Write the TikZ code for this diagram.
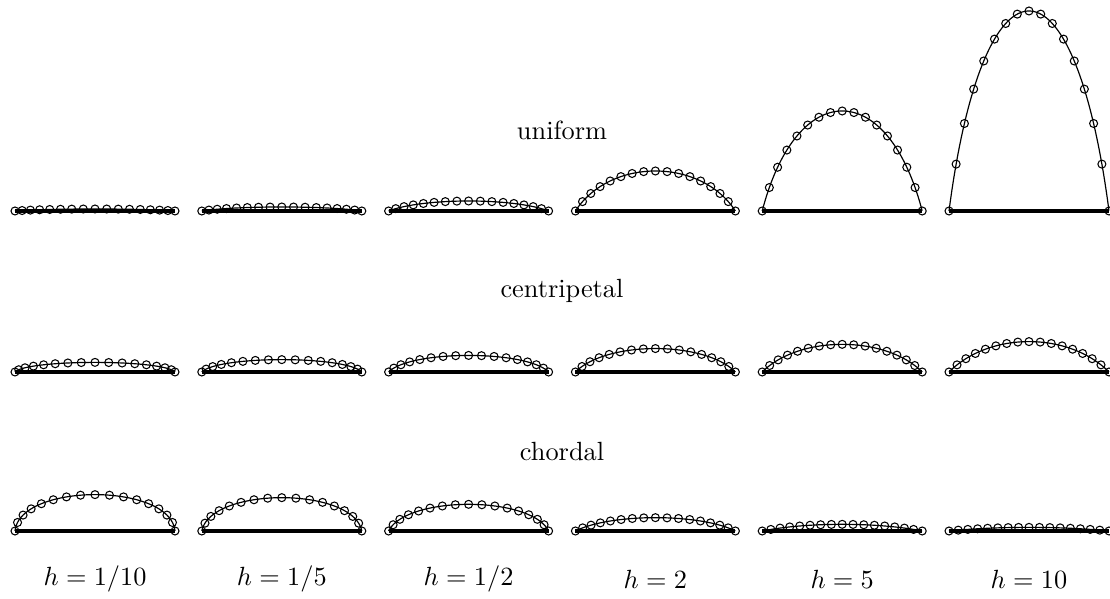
\documentclass[tikz,border=0pt]{standalone}
\usetikzlibrary{positioning}

\begin{document}
\begin{tikzpicture}[
    x=0.38pt, y=0.38pt,
    chord/.style={line width=1.3pt, line cap=butt},
    curve/.style={line width=0.45pt},
    sample/.style={line width=0.4pt},
    title/.style={font=\normalsize, inner sep=1pt},
    hlabel/.style={font=\normalsize, inner sep=1pt}
]

% Picture frame (keeps the margins)
\useasboundingbox (0,0) rectangle (1110,599);

% Row titles
\node[title] (uniform)     at (562,469) {uniform};
\node[title] (centripetal) at (562,308) {centripetal};
\node[title] (chordal)     at (562,147) {chordal};

% Column labels
\foreach \hname [count=\i from 0] in {1/10,1/5,1/2,2,5,10}
    \node[hlabel] (h\i) at (95+186.8*\i,20) {$h=\hname$};

% Panels: mode 0 = uniform, 1 = centripetal, 2 = chordal
\foreach \yb/\mode in {388/0, 227/1, 68/2} {
  \foreach \hv [count=\i from 0] in {0.1,0.2,0.5,2,5,10} {
    \pgfmathsetmacro{\sq}{sqrt(\hv)}
    \pgfmathsetmacro{\ta}{\mode==0 ? 0.65 : (\mode==1 ? \sq/(1+\sq) : \hv/(1+\hv))}
    \pgfmathsetmacro{\tb}{\mode==0 ? \hv/2 : (\mode==1 ? \sq/(1+\sq) : 1/(1+\hv))}
    \pgfmathsetmacro{\xs}{15+186.8*\i}
    % chord between the two end points
    \coordinate (p\mode\i a) at (\xs,\yb);
    \coordinate (p\mode\i b) at (\xs+160,\yb);
    \draw[chord] (p\mode\i a) -- (p\mode\i b);
    % the curve
    \draw[curve] plot[domain=0:1, samples=80, variable=\tp]
        ({\xs+160*(3*\tp^2-2*\tp^3+\ta*(2*\tp^3-3*\tp^2+\tp))},
         {\yb+160*\tb*(\tp-\tp^2)});
    % sample points
    \foreach \k in {0,...,16} {
      \pgfmathsetmacro{\tk}{\k/16}
      \pgfmathsetmacro{\px}{\xs+160*(3*\tk^2-2*\tk^3+\ta*(2*\tk^3-3*\tk^2+\tk))}
      \pgfmathsetmacro{\py}{\yb+160*\tb*(\tk-\tk^2)}
      \draw[sample] (\px,\py) circle (4);
    }
  }
}

\end{tikzpicture}
\end{document}
